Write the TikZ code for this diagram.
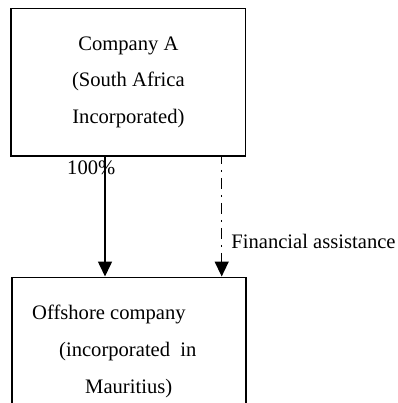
\documentclass[tikz,border=0pt]{standalone}
\usepackage{fontspec}
\setmainfont{Liberation Serif}
\usetikzlibrary{arrows.meta,positioning}

\begin{document}
\begin{tikzpicture}[>={Triangle[length=15pt,width=14pt]},x=1pt,y=-1pt]
  % Styles
  \tikzset{entity/.style={draw,line width=1.6pt,inner sep=0pt,align=center,
             font=\fontsize{20.6}{36.3}\selectfont},
           lbl/.style={inner sep=0pt,font=\fontsize{20.6}{24}\selectfont},
           link/.style={line width=1.6pt,->}}
  %
  % Canvas (the lower box runs off the bottom edge)
  \useasboundingbox (0,0) rectangle (397,403);
  \clip (0,0) rectangle (397,403);
  %
  % Boxes
  \node[entity,minimum width=234.5pt,minimum height=147.5pt] (compA) at (128.4,82.2)
    {Company A\\(South Africa\\Incorporated)};
  \node[entity,minimum width=234pt,minimum height=160pt] (offshore) at (128.7,357.3) {};
  %
  % Text of the lower box
  \node[lbl,anchor=base west] (offA) at (32,319.5) {Offshore company};
  \node[lbl,anchor=base west] (offB) at (59,356.3) {(incorporated\ \ in};
  \node[lbl,anchor=base west] (offC) at (85,393) {Mauritius)};
  %
  % Arrows
  \draw[link] ([xshift=-23.4pt]compA.south) -- ([xshift=-23.7pt]offshore.north);
  \draw[link,line width=1.4pt,dash pattern=on 11pt off 6pt on 2pt off 6pt,dash phase=4pt]
    ([xshift=93.3pt]compA.south) -- ([xshift=93pt]offshore.north)
    node[lbl,pos=0.71,right=9pt] (fin) {Financial assistance};
  %
  % Labels
  \node[lbl,anchor=base west] (share) at (67,175) {100\%};
  %
\end{tikzpicture}
\end{document}
